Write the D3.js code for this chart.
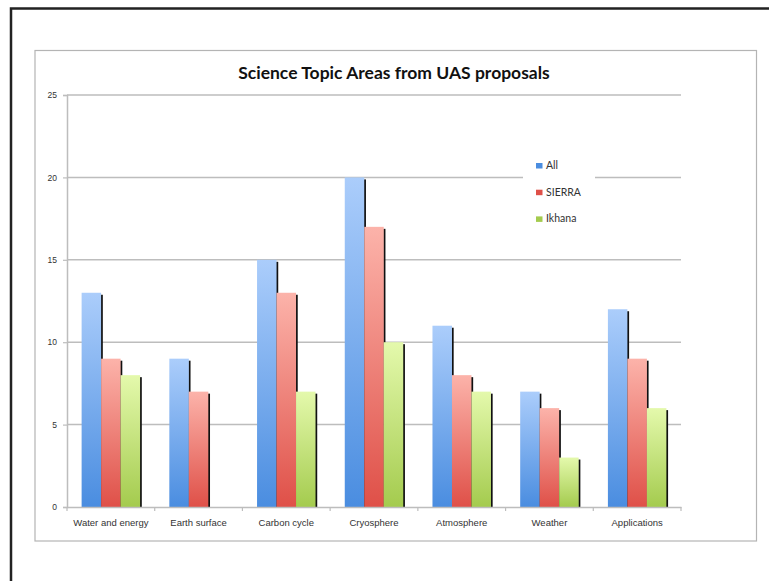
<!DOCTYPE html>
<html>
<head>
<meta charset="utf-8">
<script src="https://cdn.jsdelivr.net/npm/d3@7"></script>
<style>
  body { margin: 0; background: #fff; }
  svg { display: block; font-family: Lato, "Open Sans", sans-serif; }
</style>
</head>
<body>
<div id="chart"></div>
<script>
// data
var categories = ["Water and energy", "Earth surface", "Carbon cycle", "Cryosphere", "Atmosphere", "Weather", "Applications"];
var seriesNames = ["All", "SIERRA", "Ikhana"];
var allValues = [13, 9, 15, 20, 11, 7, 12];
var sierraValues = [9, 7, 13, 17, 8, 6, 9];
var ikhanaValues = [8, 0, 7, 10, 7, 3, 6];
var yTicks = [0, 5, 10, 15, 20, 25];

var seriesValues = [allValues, sierraValues, ikhanaValues];
var colors = [
  {top: "#abcdfb", bottom: "#4a8de0"},
  {top: "#fcb3aa", bottom: "#df5048"},
  {top: "#e4f9ac", bottom: "#a4cb4e"}
];

var W = 769, H = 581;
var margin = {top: 95, right: 88, bottom: 74, left: 67},
  width = W - margin.left - margin.right,
  height = H - margin.top - margin.bottom;

var svg = d3.select("#chart").append("svg")
  .attr("width", W)
  .attr("height", H);

// page frame (black, top and left only)
svg.append("path")
  .attr("d", "M11,581V8.5H769")
  .attr("fill", "none")
  .attr("stroke", "#222")
  .attr("stroke-width", 2.5);

// chart box
svg.append("rect")
  .attr("x", 35).attr("y", 50.5)
  .attr("width", 721.5).attr("height", 490.5)
  .attr("fill", "#fff")
  .attr("stroke", "#b4b4b4")
  .attr("stroke-width", 1.2);

var defs = svg.append("defs");
colors.forEach(function (c, i) {
  var g = defs.append("linearGradient")
    .attr("id", "grad" + i)
    .attr("x1", 0).attr("y1", 0).attr("x2", 0).attr("y2", 1);
  g.append("stop").attr("offset", "0%").attr("stop-color", c.top);
  g.append("stop").attr("offset", "100%").attr("stop-color", c.bottom);
});

var g = svg.append("g")
  .attr("transform", "translate(" + margin.left + "," + margin.top + ")");

var x0 = d3.scaleBand().domain(categories).range([0, width]).paddingInner(0).paddingOuter(0);
var x1 = d3.scaleBand().domain(seriesNames).range([0, x0.bandwidth()]).paddingOuter(0.75).paddingInner(0);
var y = d3.scaleLinear().domain([0, 25]).range([height, 0]);

// gridlines
g.selectAll(".grid")
  .data(yTicks.slice(1))
  .enter().append("line")
  .attr("x1", 0).attr("x2", width)
  .attr("y1", function (d) { return y(d); })
  .attr("y2", function (d) { return y(d); })
  .attr("stroke", "#bdbdbd")
  .attr("stroke-width", 1.5);

// y axis
var yAxis = g.append("g")
  .call(d3.axisLeft(y).tickValues(yTicks).tickSize(4).tickPadding(6));
yAxis.select(".domain").attr("stroke", "#bdbdbd").attr("stroke-width", 1.5);
yAxis.selectAll(".tick line").attr("stroke", "#bdbdbd").attr("stroke-width", 1.2);
yAxis.selectAll("text").attr("font-size", 8.5).attr("fill", "#333");

// bars with a dark drop edge
var groups = g.selectAll(".cat")
  .data(categories)
  .enter().append("g")
  .attr("transform", function (d) { return "translate(" + x0(d) + ",0)"; });

groups.each(function (cat, ci) {
  var grp = d3.select(this);
  seriesNames.forEach(function (s, si) {
    var v = seriesValues[si][ci];
    if (!v) return;
    var bx = x1(s), bw = x1.bandwidth(), by = y(v);
    grp.append("rect")
      .attr("x", bx + bw - 0.5)
      .attr("y", by + 2)
      .attr("width", 2.2)
      .attr("height", height - by - 2)
      .attr("fill", "#111");
    grp.append("rect")
      .attr("x", bx)
      .attr("y", by)
      .attr("width", bw)
      .attr("height", height - by)
      .attr("fill", "url(#grad" + si + ")");
  });
});

// x axis
var xAxis = g.append("g")
  .attr("transform", "translate(0," + height + ")")
  .call(d3.axisBottom(x0).tickSize(0).tickPadding(12));
xAxis.select(".domain").attr("stroke", "#bdbdbd").attr("stroke-width", 1.5);
xAxis.selectAll("text").attr("font-size", 9.5).attr("fill", "#333");
xAxis.selectAll(".sep")
  .data(d3.range(categories.length + 1))
  .enter().append("line")
  .attr("x1", function (i) { return i * x0.step(); })
  .attr("x2", function (i) { return i * x0.step(); })
  .attr("y1", 0).attr("y2", 4)
  .attr("stroke", "#bdbdbd").attr("stroke-width", 1.2);

// legend
var legend = svg.append("g").attr("transform", "translate(523,156)");
legend.append("rect")
  .attr("width", 72).attr("height", 72)
  .attr("fill", "#fff");
seriesNames.forEach(function (s, i) {
  var row = legend.append("g").attr("transform", "translate(13," + (7 + i * 26.7) + ")");
  row.append("rect")
    .attr("width", 6.5).attr("height", 5.5)
    .attr("fill", colors[i].bottom);
  row.append("text")
    .attr("x", 10).attr("y", 6)
    .attr("font-size", 10.5)
    .attr("fill", "#333")
    .text(s);
});

// title
svg.append("text")
  .attr("x", 394)
  .attr("y", 79)
  .attr("text-anchor", "middle")
  .attr("font-size", 17.5)
  .attr("font-weight", "bold")
  .attr("fill", "#111")
  .text("Science Topic Areas from UAS proposals");
</script>
</body>
</html>
